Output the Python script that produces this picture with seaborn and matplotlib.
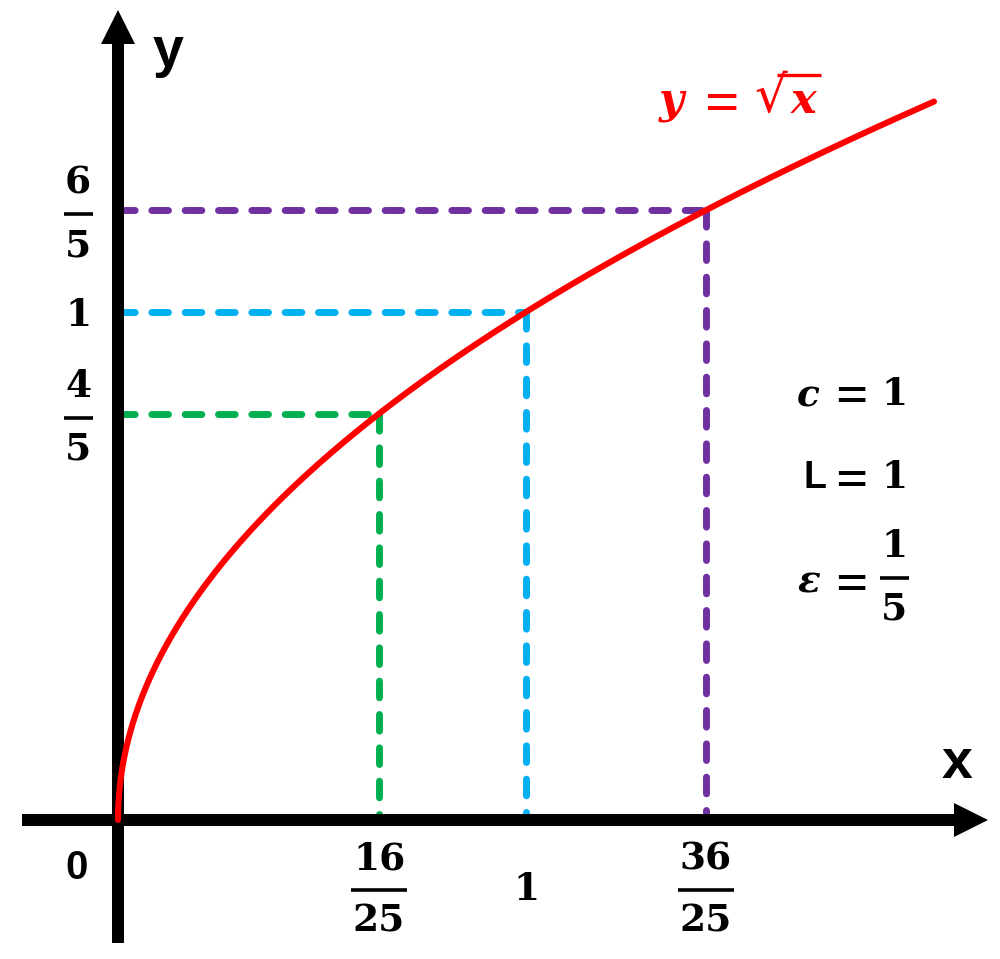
import numpy as np
import matplotlib
matplotlib.use('Agg')
import matplotlib.pyplot as plt
import seaborn as sns
import pandas as pd
from matplotlib.patches import FancyArrow
from matplotlib.transforms import IdentityTransform

# ---------------- data ----------------
x_marks = [16 / 25, 1.0, 36 / 25]
y_marks = [4 / 5, 1.0, 6 / 5]
x_tick_labels = [('16', '25'), ('1', None), ('36', '25')]
y_tick_labels = [('4', '5'), ('1', None), ('6', '5')]
guide_colors = ['#00B050', '#00B0F0', '#7030A0']
x_max = 2.0
curve_x = x_max * np.linspace(0, 1, 900) ** 2
curve_y = np.sqrt(curve_x)
param_symbols = [r'$c$', r'$\mathsf{L}$', r'$\varepsilon$']
param_values = [('1', None), ('1', None), ('1', '5')]

# ---------------- style ----------------
sns.set_theme(style='white')
plt.rcParams['font.family'] = ['Liberation Sans', 'DejaVu Sans']
plt.rcParams['text.color'] = 'black'
plt.rcParams['mathtext.fontset'] = 'custom'
plt.rcParams['mathtext.rm'] = 'DejaVu Serif:bold'
plt.rcParams['mathtext.it'] = 'DejaVu Serif:italic:bold'
plt.rcParams['mathtext.bf'] = 'DejaVu Serif:bold'
plt.rcParams['mathtext.sf'] = 'Liberation Sans:bold'

W, H = 1000, 959
fig = plt.figure(figsize=(W / 100, H / 100), dpi=100)
ax = fig.add_axes([0, 0, 1, 1])
# pixel scale: origin at (118, 820), 408 px per x unit, 508 px per y unit
ox, oy, sx, sy = 118, 820, 408, 508
ax.set_xlim(-ox / sx, (W - ox) / sx)
ax.set_ylim(-(H - oy) / sy, oy / sy)
ax.axis('off')

SERIF = 'DejaVu Serif'
FS = 27
HALF = 14  # half the digit height in pixels
ID = IdentityTransform()


def digits(px, py_center, s):
    ax.text(px, py_center - HALF, s, transform=ID,
            ha='center', va='baseline', fontsize=FS, family=SERIF,
            fontweight='bold', color='black')


def equals(px, py_center, size, color):
    ax.text(px, py_center - 0.36 * size * 100 / 72, '=', transform=ID,
            ha='center', va='baseline', fontsize=size,
            family='Liberation Serif', fontweight='bold', color=color)


def put_value(x, y, num, den, dx, dy, barw):
    """Place a number or a stacked fraction; dx, dy are pixel offsets of the bar."""
    px, py = ax.transData.transform((x, y))
    if den is None:
        digits(px + dx, py + dy, num)
        return
    digits(px + dx, py + dy + 35, num)
    digits(px + dx, py + dy - 28, den)
    ax.plot([px + dx - barw / 2, px + dx + barw / 2], [py + dy, py + dy],
            transform=ID, color='black', lw=2.6, solid_capstyle='butt')


# axes arrows
x0, x1 = (22 - ox) / sx, (988 - ox) / sx
y0, y1 = -(943 - oy) / sy, (oy - 10) / sy
ax.add_patch(FancyArrow(x0, 0, x1 - x0, 0, width=12 / sy, head_width=34 / sy,
                        head_length=34 / sx, length_includes_head=True,
                        color='black', lw=0, zorder=3))
ax.add_patch(FancyArrow(0, y0, 0, y1 - y0, width=12 / sx, head_width=34 / sx,
                        head_length=34 / sy, length_includes_head=True,
                        color='black', lw=0, zorder=3))

# dashed guides
for xm, ym, col in zip(x_marks, y_marks, guide_colors):
    ax.plot([0, xm], [ym, ym], color=col, lw=5, dashes=(2.4, 2.4),
            dash_capstyle='round', zorder=2)
    ax.plot([xm, xm], [ym, 0], color=col, lw=5, dashes=(2.4, 2.4),
            dash_capstyle='round', zorder=2)

# curve
df = pd.DataFrame({'x': curve_x, 'y': curve_y})
sns.lineplot(data=df, x='x', y='y', color='#FF0000', lw=4.4, ax=ax,
             zorder=4, sort=False)

# curve label  y = sqrt(x), built from pieces (pixel positions from top-left)
RED = '#FF0000'
ax.text(673, H - 113, r'$y$', transform=ID, fontsize=31, ha='center',
        va='baseline', color=RED)
equals(722, H - 100, 44, RED)
ax.text(771, H - 98, '\u221A', transform=ID, fontsize=37, ha='center',
        va='center', color=RED, family=SERIF)
ax.plot([777, 821], [H - 75, H - 75], transform=ID, color=RED, lw=2.4,
        solid_capstyle='butt')
ax.text(804, H - 113, r'$x$', transform=ID, fontsize=31, ha='center',
        va='baseline', color=RED)

# tick labels
for xm, (num, den) in zip(x_marks, x_tick_labels):
    if den is None:
        put_value(xm, 0, num, den, 0, -66, 0)
    else:
        put_value(xm, 0, num, den, 0, -70, 56)
for ym, (num, den) in zip(y_marks, y_tick_labels):
    if den is None:
        put_value(0, ym, num, den, -40, 0, 0)
    else:
        put_value(0, ym, num, den, -40, -4, 29)

ax.annotate('0', (0, 0), xytext=(-41, -48), textcoords='offset pixels',
            ha='center', va='center', fontsize=29, fontweight='bold',
            color='black')
ax.annotate('y', (0, y1), xytext=(50, -42), textcoords='offset pixels',
            ha='center', va='center', fontsize=40, fontweight='bold',
            color='black')
ax.annotate('x', (x1, 0), xytext=(-31, 56), textcoords='offset pixels',
            ha='center', va='center', fontsize=40, fontweight='bold',
            color='black')

# parameter text (symbol column, "=" column, value column)
row_y = [(oy - 391) / sy, (oy - 474) / sy, (oy - 578) / sy]
sym_x = [(808 - ox) / sx, (815 - ox) / sx, (809 - ox) / sx]
eq_x = (851 - ox) / sx
val_x = (894 - ox) / sx
for sym, (num, den), ry, syx in zip(param_symbols, param_values, row_y, sym_x):
    ax.text(syx, ry, sym, fontsize=FS, ha='center', va='center_baseline',
            color='black')
    px, py = ax.transData.transform((eq_x, ry))
    equals(px, py - 2, 41, 'black')
    if den is None:
        put_value(val_x, ry, num, den, 0, 0, 0)
    else:
        put_value(val_x, ry, num, den, 0, 0, 29)

fig.savefig('out.png', dpi=100)
